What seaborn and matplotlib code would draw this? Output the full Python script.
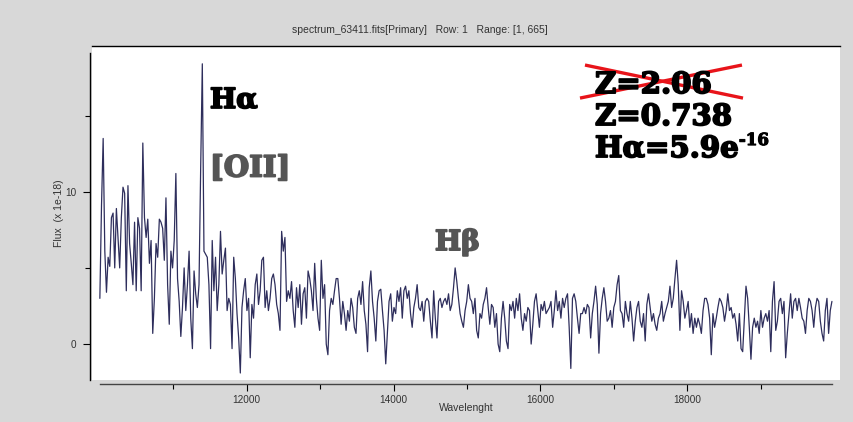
import numpy as np
import pandas as pd
import matplotlib
matplotlib.use("Agg")
import matplotlib.pyplot as plt
import matplotlib.patheffects as pe
import seaborn as sns

# Flux (x 1e-18) on a regular wavelength grid, blue end to red end
flux_blue = [
    3.0, 9.1, 13.5, 6.1, 3.4, 5.7, 5.1, 8.3, 8.6, 5.0,
    8.9, 7.0, 5.0, 8.3, 10.3, 9.9, 3.5, 10.4, 6.6, 5.3,
    3.9, 8.0, 3.5, 8.3, 7.6, 3.5, 13.2, 8.3, 7.0, 8.2,
    5.3, 6.8, 0.7, 3.0, 6.6, 5.7, 8.2, 8.0, 7.6, 5.5,
    9.6, 3.9, 1.3, 6.1, 5.0, 6.8, 11.2, 4.3, 2.8, 0.5,
    2.4, 5.0, 2.2, 3.9, 6.1, 1.7, -0.3, 4.8, 3.3, 2.4,
    3.9, 11.5, 18.4, 6.1, 5.9, 5.7, 3.9, -0.3, 6.8, 3.5,
    5.7, 2.2, 3.9, 7.4, 4.6, 5.5, 6.3, 2.2, 3.0, 2.6,
    -0.3, 5.7, 4.3, 2.0, 0.4, -1.9, 2.4, 3.5, 4.3, 2.2,
    3.0, -0.9, 2.6, 1.7, 3.9, 4.6, 2.6, 3.5, 5.5, 5.7,
    2.4, 3.5, 2.2, 3.0, 4.3, 4.6, 3.9, 2.6, 2.0, 0.9,
    7.4, 6.1, 7.0, 2.8, 3.5, 3.0, 4.1, 2.2, 1.1, 3.7,
    2.4, 3.9, 1.3, 3.3, 3.7, 1.7, 4.8, 4.3, 3.5, 2.2,
    5.3, 3.0, 1.7, 0.9, 5.5, 3.0, 3.9, 0.0, -0.7, 2.2,
    3.0, 2.6, 3.5, 4.3,
]
flux_mid = [
    4.3, 3.0, 1.3, 2.8, 2.0, 0.9, 2.2, 1.5, 3.0, 2.4,
    1.1, 0.7, 3.0, 3.5, 2.6, 4.1, 2.2, 1.3, -0.5, 3.7,
    4.8, 2.8, 1.7, 0.2, 2.8, 3.5, 3.6, 2.2, 0.9, -1.3,
    0.7, 2.8, 3.3, 1.5, 2.4, 2.0, 3.5, 2.8, 3.7, 1.7,
    3.5, 3.8, 3.0, 3.5, 2.0, 1.1, 2.4, 3.0, 3.9, 2.4,
    2.2, 2.8, 1.5, 2.8, 3.0, 2.8, 1.5, 0.4, 3.5, 1.7,
    0.4, 2.8, 3.0, 2.4, 2.8, 3.0, 2.6, 3.3, 2.2, 2.6,
    3.7, 5.0, 4.1, 3.0,
    2.0, 1.5, 1.1, 2.2, 2.8, 3.9, 3.0, 2.8, 2.0, 3.0,
    0.9, 0.4, 2.0, 1.7, 2.6, 3.0, 3.7, 2.4, 1.3, 2.6,
    2.4, 1.1, 2.0, 0.0, -0.5, 1.7, 2.8, 1.7, 0.2, -0.3,
    2.6, 2.2, 2.8, 1.7, 3.0, 2.2, 3.3, 1.7, 0.9, 2.0,
    1.5, 2.4, 2.2, 0.0, 1.3, 2.8, 3.3, 2.2, 1.1, 2.6,
    2.2, 2.8, 2.0, 2.2, 2.4, 2.8, 1.1, 2.2, 3.5, 2.2,
    2.8, 1.7, 3.0, 2.4, 3.0, 3.3, 1.1, -1.6, 3.0, 3.3,
    2.8, 1.7, 0.7, 2.0, 2.0, 2.4, 2.0, 2.6,
]
flux_red = [
    2.4, 0.4, 2.0, 2.8, 3.8, 2.6, -0.6, 2.0, 3.0, 3.7,
    2.8, 1.5, 1.7, 2.2, 1.1, 2.4, 2.8, 3.9,
    4.5, 2.2, 2.0, 1.1, 2.8, 2.0, 1.5, 2.8, 1.7, 0.2,
    1.5, 2.4, 2.8, 1.5, 1.1, 2.0, 0.2, 2.6, 3.3, 2.4,
    1.5, 2.0, 1.3, 0.9, 1.7, 2.0, 2.8, 1.5, 2.0, 2.4,
    2.8, 3.8, 2.4, 3.0, 4.3, 5.5, 3.9, 0.9, 3.5,
    2.8, 1.7, 2.2, 2.8, 1.1, 2.0, 0.7, 1.7, 1.1, 1.7,
    1.3, 0.7, 2.2, 3.0, 3.0, 2.6, 1.7, -0.7, 2.0, 1.1,
    1.7, 2.4, 3.0, 2.8, 2.4, 1.5, 2.2, 3.3, 2.2, 2.4,
    1.7, 2.0, 1.3, 0.2, 2.0, -0.3, -0.5, 1.7, 3.8, 3.0,
    1.1, -1.0, 1.1, 1.7, 1.1, 1.5, 0.7, 2.2, 1.1, 1.7,
    2.0, 1.5, 2.2, -0.5, 2.8, 4.1, 0.9, 1.5, 2.8, 3.0,
    2.0, 2.8, -0.9, 0.7, 2.0, 3.3, 1.7, 2.8, 3.0, 2.2,
    3.0, 2.4, 1.7, 1.5, 0.7, 2.2, 3.0, 2.8, 2.2, 1.1,
    2.4, 3.0, 2.8, 1.5, 0.7, 0.2, 2.2, 3.0, 0.7, 2.2,
    2.8,
]
wave_min, wave_max = 10000, 19970

x_major = [12000, 14000, 16000, 18000]
x_minor = [11000, 13000, 15000, 17000, 19000]
y_major = [0, 10]
y_minor = [5, 15]

flux = np.array(flux_blue + flux_mid + flux_red)
wave = np.linspace(wave_min, wave_max, flux.size)
spec = pd.DataFrame({"Wavelength": wave, "Flux": flux})

sns.set_theme(style="white")
plt.rcParams["font.family"] = ["Liberation Sans", "DejaVu Sans"]

fig = plt.figure(figsize=(8.54, 4.22), dpi=100, facecolor="#d8d8d8")
ax = fig.add_axes([92 / 854, 1 - 380 / 422, 748 / 854, 334 / 422])
ax.set_facecolor("white")

sns.lineplot(data=spec, x="Wavelength", y="Flux", estimator=None, sort=False,
             color="#2e2e5c", linewidth=0.9, ax=ax)

ax.set_xlim(9893, 20080)
ax.set_ylim(-2.36, 19.57)

# frame
ax.spines["right"].set_visible(False)
for side in ("top", "left", "bottom"):
    ax.spines[side].set_visible(True)
    ax.spines[side].set_color("black")
    ax.spines[side].set_linewidth(1.0)
ax.spines["bottom"].set_color("#444444")
ax.spines["left"].set_position(("outward", 1.5))
ax.spines["left"].set_bounds(-2.36, 19.1)
ax.spines["bottom"].set_position(("outward", 3))
ax.spines["bottom"].set_bounds(wave_min, wave_max)

ax.set_xticks(x_major)
ax.set_xticks(x_minor, minor=True)
ax.set_yticks(y_major)
ax.set_yticks(y_minor, minor=True)
ax.tick_params(which="both", bottom=True, left=True, direction="out",
               color="black", width=0.8)
ax.tick_params(which="major", length=5, labelsize=7.2, labelcolor="#333333", pad=3)
ax.tick_params(which="minor", length=3.5)
ax.tick_params(axis="y", which="major", pad=5)

ax.set_xlabel("Wavelenght", fontsize=7.5, color="#333333")
ax.set_ylabel("Flux  (x 1e-18)", fontsize=7.5, color="#333333")
ax.xaxis.set_label_coords(0.5, -0.068)
ax.yaxis.set_label_coords(-0.038, 0.5)

fig.text(420 / 854, 1 - 30 / 422,
         "spectrum_63411.fits[Primary]   Row: 1   Range: [1, 665]",
         ha="center", va="center", fontsize=7.5, color="#333333")


def slab(color, size=20):
    """Heavy slab-serif look: bold serif with a thin outline of the same colour."""
    return dict(family="DejaVu Serif", weight="bold", fontsize=size, va="baseline",
                color=color,
                path_effects=[pe.withStroke(linewidth=1.3, foreground=color)])


# line identifications
ax.text(11500, 15.5, "Hα", **slab("black"))
ax.text(11500, 11.0, "[OII]", **slab("#555555", 21))
ax.text(14564, 6.17, "Hβ", **slab("#555555"))

# redshift notes
ax.text(16743, 16.48, "Z=2.06", **slab("black", 21))
ax.text(16743, 14.38, "Z=0.738", **slab("black", 21))
ha_flux = ax.text(16743, 12.28, "Hα=5.9e", **slab("black", 21))
sup = slab("black", 12)
sup["path_effects"] = [pe.withStroke(linewidth=0.8, foreground="black")]
ax.annotate("-16", xy=(1.0, 0.62), xycoords=ha_flux, ha="left", **sup)

# red cross over the rejected redshift
ax.plot([16539, 18745], [16.15, 18.32], color="#e8141a", lw=2.4, solid_capstyle="butt")
ax.plot([16607, 18759], [18.32, 16.15], color="#e8141a", lw=2.4, solid_capstyle="butt")

fig.savefig("out.png", dpi=100, facecolor=fig.get_facecolor())
